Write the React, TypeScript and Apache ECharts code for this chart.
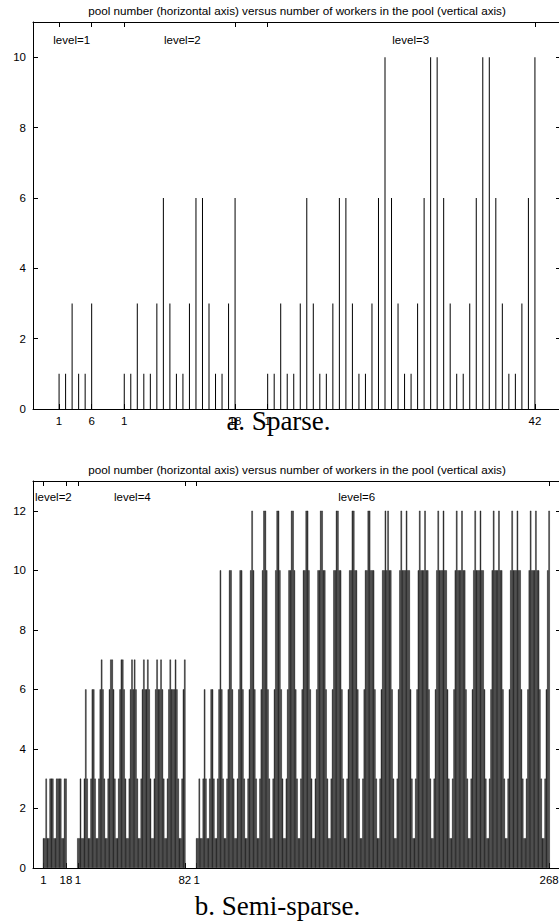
import React, { useEffect, useRef } from "react";
import * as echarts from "echarts";

// ---------- data ----------
// a. Sparse: workers per pool, one array per level
const sparseLevel1 = [1, 1, 3, 1, 1, 3];
const sparseLevel2 = [1, 1, 3, 1, 1, 3, 6, 3, 1, 1, 3, 6, 6, 3, 1, 1, 3, 6];
const sparseLevel3 = [
  1, 1, 3, 1, 1, 3, 6, 3, 1, 1, 3, 6, 6, 3, 1, 1, 3, 6, 10, 6, 3,
  1, 1, 3, 6, 10, 10, 6, 3, 1, 1, 3, 6, 10, 10, 6, 3, 1, 1, 3, 6, 10,
];
// b. Semi-sparse
const semiLevel2 = [1, 1, 3, 1, 1, 3, 3, 3, 1, 1, 3, 3, 3, 3, 1, 1, 3, 3];
const semiLevel4 = [
  1, 1, 3,
  1, 1, 3, 6, 3,
  1, 1, 3, 6, 6, 3,
  1, 1, 3, 6, 7, 6, 3,
  1, 1, 3, 6, 7, 7, 6, 3,
  1, 1, 3, 6, 7, 7, 6, 3,
  1, 1, 3, 6, 7, 6, 7, 6, 3,
  1, 1, 3, 6, 7, 6, 6, 7, 6, 3,
  1, 1, 3, 6, 7, 6, 6, 7, 6, 3,
  1, 1, 3, 6, 7, 6, 6, 6, 7, 6, 3,
  1, 1, 3, 6, 7,
];
const semiLevel6 = [
  1, 1, 3,
  1, 1, 3, 6, 3,
  1, 1, 3, 6, 6, 3,
  1, 1, 3, 6, 10, 6, 3,
  1, 1, 3, 6, 10, 10, 6, 3,
  1, 1, 3, 6, 10, 10, 6, 3,
  1, 1, 3, 6, 10, 12, 10, 6, 3,
  1, 1, 3, 6, 10, 12, 12, 10, 6, 3,
  1, 1, 3, 6, 10, 12, 12, 10, 6, 3,
  1, 1, 3, 6, 10, 10, 12, 12, 10, 6, 3,
  1, 1, 3, 6, 10, 10, 12, 12, 10, 6, 3,
  1, 1, 3, 6, 10, 10, 12, 12, 10, 10, 6, 3,
  1, 1, 3, 6, 10, 10, 12, 12, 10, 10, 6, 3,
  1, 1, 3, 6, 10, 10, 12, 12, 10, 10, 6, 3,
  1, 1, 3, 6, 10, 10, 12, 12, 10, 10, 10, 6, 3,
  1, 1, 3, 6, 10, 10, 12, 10, 12, 10, 10, 6, 3,
  1, 1, 3, 6, 10, 12, 10, 10, 10, 12, 10, 10, 6, 3,
  1, 1, 3, 6, 10, 12, 10, 10, 10, 12, 10, 10, 6, 3,
  1, 1, 3, 6, 10, 12, 10, 10, 10, 12, 10, 10, 6, 3,
  1, 1, 3, 6, 10, 12, 10, 10, 10, 12, 10, 10, 6, 3,
  1, 1, 3, 6, 10, 12, 10, 10, 10, 12, 10, 10, 6, 3,
  1, 1, 3, 6, 10, 12, 10, 10, 10, 12, 10, 10, 6, 3,
  1, 1, 3, 6, 10, 12, 10, 10, 10, 12, 10, 10, 6, 3,
  1, 1, 3, 6, 10, 12, 10, 10, 10, 12, 10, 10, 6, 3,
  1, 1, 3, 6, 10, 12,
];

// first x slot of each level on the horizontal axis
const sparseLevelStarts = [1, 11, 33];
const semiLevelStarts = [1, 27, 117];

const sparseTickValues = [1, 6, 11, 28, 33, 74];
const sparseTickLabels = ["1", "6", "1", "18", "1", "42"];
const semiTickValues = [1, 18, 27, 108, 117, 384];
const semiTickLabels = ["1", "18", "1", "82", "1", "268"];
const sparseYTicks = [0, 2, 4, 6, 8, 10];
const semiYTicks = [0, 2, 4, 6, 8, 10, 12];

const sparseLevelNames = ["level=1", "level=2", "level=3"];
const semiLevelNames = ["level=2", "level=4", "level=6"];

const TITLE =
  "pool number (horizontal axis) versus number of workers in the pool (vertical axis)";
const CAPTION_A = "a. Sparse.";
const CAPTION_B = "b. Semi-sparse.";

// ---------- helpers ----------
function buildPoints(levels: number[][], starts: number[]) {
  const out: number[][] = [];
  levels.forEach((arr, li) => {
    arr.forEach((v, i) => out.push([starts[li] + i, v]));
  });
  return out;
}

const SANS = "'Liberation Sans', Arial, Helvetica, sans-serif";
const SERIF = "'Liberation Serif', 'Times New Roman', serif";

function xAxes(grid: number, min: number, max: number, ticks: number[], labels: string[]) {
  const base = {
    type: "value" as const,
    gridIndex: grid,
    min,
    max,
    splitLine: { show: false },
    axisLine: { show: true, onZero: false, lineStyle: { color: "#000", width: 1 } },
  };
  return [
    {
      ...base,
      position: "bottom",
      axisTick: { show: true, inside: true, length: 5, customValues: ticks, lineStyle: { color: "#000" } },
      axisLabel: {
        show: true,
        customValues: ticks,
        formatter: (v: number) => labels[ticks.indexOf(v)] ?? "",
        color: "#000",
        fontSize: 11.5,
        fontFamily: SANS,
        margin: 6,
      },
    },
    {
      ...base,
      position: "top",
      axisTick: { show: true, inside: true, length: 5, customValues: ticks, lineStyle: { color: "#000" } },
      axisLabel: { show: false },
    },
  ];
}

function yAxes(grid: number, max: number, ticks: number[]) {
  const base = {
    type: "value" as const,
    gridIndex: grid,
    min: 0,
    max,
    splitLine: { show: false },
    axisLine: { show: true, onZero: false, lineStyle: { color: "#000", width: 1 } },
    axisTick: { show: true, inside: true, length: 5, customValues: ticks, lineStyle: { color: "#000" } },
  };
  return [
    {
      ...base,
      position: "left",
      axisLabel: {
        show: true,
        customValues: ticks,
        color: "#000",
        fontSize: 11.5,
        fontFamily: SANS,
        margin: 7,
      },
    },
    { ...base, position: "right", axisLabel: { show: false } },
  ];
}

function txt(text: string, x: number, y: number, size: number, family: string, align: string) {
  return {
    type: "text",
    x,
    y,
    silent: true,
    style: { text, fontSize: size, fontFamily: family, fill: "#000", align, verticalAlign: "middle" },
  };
}

export default function App() {
  const ref = useRef<HTMLDivElement>(null);

  useEffect(() => {
    if (!ref.current) return;
    const chart = echarts.init(ref.current, undefined, { renderer: "svg" });

    const sparseData = buildPoints([sparseLevel1, sparseLevel2, sparseLevel3], sparseLevelStarts);
    const semiData = buildPoints([semiLevel2, semiLevel4, semiLevel6], semiLevelStarts);

    const option: any = {
      animation: false,
      backgroundColor: "#fff",
      grid: [
        { left: 33, top: 22, width: 528, height: 387, outerBoundsMode: "none", containLabel: false },
        { left: 33, top: 481, width: 528, height: 387, outerBoundsMode: "none", containLabel: false },
      ],
      xAxis: [
        ...xAxes(0, -3, 78, sparseTickValues, sparseTickLabels),
        ...xAxes(1, -7, 393, semiTickValues, semiTickLabels),
      ],
      yAxis: [...yAxes(0, 11, sparseYTicks), ...yAxes(1, 13, semiYTicks)],
      series: [
        {
          type: "bar",
          xAxisIndex: 0,
          yAxisIndex: 0,
          data: sparseData,
          barWidth: 1,
          silent: true,
          itemStyle: { color: "#000" },
        },
        {
          type: "bar",
          xAxisIndex: 2,
          yAxisIndex: 2,
          data: semiData,
          barWidth: 1.32,
          silent: true,
          itemStyle: { color: "#3f3f3f", borderColor: "#000", borderWidth: 0.35 },
        },
      ],
      graphic: [
        txt(TITLE, 297, 10.5, 11.7, SANS, "center"),
        txt(sparseLevelNames[0], 53.3, 39.5, 11.5, SANS, "left"),
        txt(sparseLevelNames[1], 164, 39.5, 11.5, SANS, "left"),
        txt(sparseLevelNames[2], 392.3, 39.5, 11.5, SANS, "left"),
        txt(CAPTION_A, 278.5, 421, 27, SERIF, "center"),
        txt(TITLE, 297, 469, 11.7, SANS, "center"),
        txt(semiLevelNames[0], 35, 496.5, 11.5, SANS, "left"),
        txt(semiLevelNames[1], 114, 496.5, 11.5, SANS, "left"),
        txt(semiLevelNames[2], 338.3, 496.5, 11.5, SANS, "left"),
        txt(CAPTION_B, 277.5, 906, 27, SERIF, "center"),
      ],
    };
    chart.setOption(option);
    return () => chart.dispose();
  }, []);

  return (
    <div style={{ position: "fixed", left: 0, top: 0, width: 559, height: 921, overflow: "hidden", background: "#fff" }}>
      <div ref={ref} style={{ width: 570, height: 921 }} />
    </div>
  );
}
